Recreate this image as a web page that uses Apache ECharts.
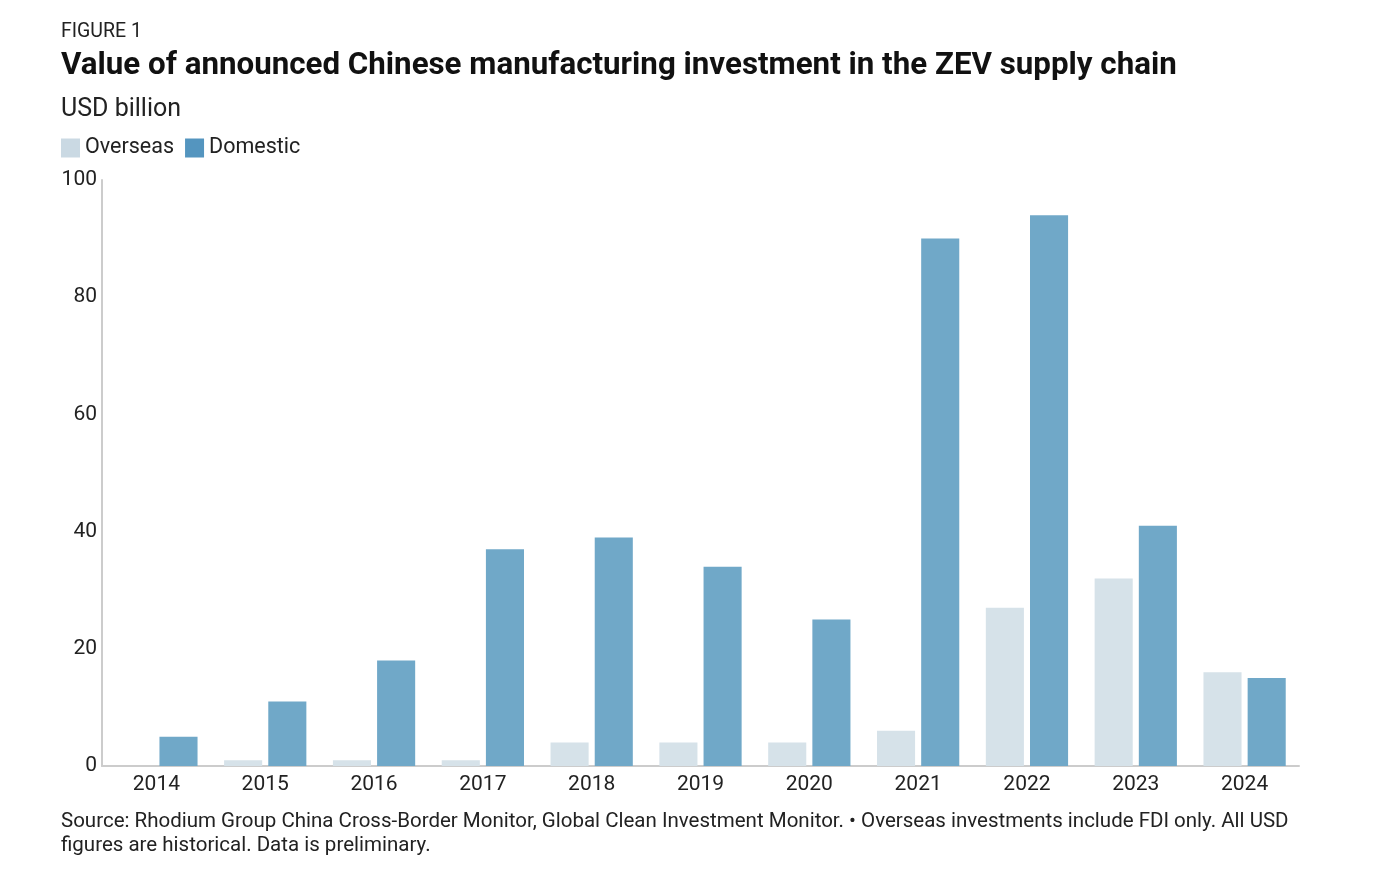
<!DOCTYPE html>
<html>
<head>
<meta charset="utf-8">
<script src="https://cdn.jsdelivr.net/npm/echarts@6/dist/echarts.min.js"></script>
<style>
  html, body { margin: 0; padding: 0; background: #fff; }
  #chart { width: 1380px; height: 887px; }
</style>
</head>
<body>
<div id="chart"></div>
<script>
var years = ['2014', '2015', '2016', '2017', '2018', '2019', '2020', '2021', '2022', '2023', '2024'];
var overseas = [0, 1, 1, 1, 4, 4, 4, 6, 27, 32, 16];
var domestic = [5, 11, 18, 37, 39, 34, 25, 90, 94, 41, 15];
var yTicks = [0, 20, 40, 60, 80, 100];

var chart = echarts.init(document.getElementById('chart'));
var font = 'Roboto, "Noto Sans", sans-serif';

var option = {
    animation: false,
    textStyle: { fontFamily: font },
    title: [
        { text: 'FIGURE 1', left: 61, top: 22, padding: 0, textStyle: { fontSize: 19.5, fontWeight: 'normal', color: '#222', fontFamily: font } },
        { text: 'Value of announced Chinese manufacturing investment in the ZEV supply chain', left: 61, top: 51, padding: 0, textStyle: { fontSize: 31.3, fontWeight: 'bold', color: '#111', fontFamily: font } },
        { text: 'USD billion', left: 61, top: 97, padding: 0, textStyle: { fontSize: 25, fontWeight: 'normal', color: '#222', fontFamily: font } },
        {
            text: 'Source: Rhodium Group China Cross-Border Monitor, Global Clean Investment Monitor. \u2022 Overseas investments include FDI only. All USD\nfigures are historical. Data is preliminary.',
            left: 61, top: 810, padding: 0,
            textStyle: { fontSize: 20.5, fontWeight: 'normal', color: '#222', lineHeight: 24, fontFamily: font }
        }
    ],
    legend: {
        left: 61, top: 137, padding: 0,
        itemWidth: 19, itemHeight: 19, itemGap: 11,
        icon: 'rect',
        textStyle: { fontSize: 21.5, color: '#222', fontFamily: font },
        data: [
            { name: 'Overseas', itemStyle: { color: '#cad9e3' } },
            { name: 'Domestic', itemStyle: { color: '#5495bf' } }
        ]
    },
    grid: { left: 102, right: 81, top: 180, bottom: 121, containLabel: false },
    xAxis: {
        type: 'category',
        data: years,
        axisLine: { lineStyle: { color: '#cccccc', width: 2 } },
        axisTick: { show: false },
        axisLabel: { fontSize: 21, color: '#222', margin: 8, fontFamily: font }
    },
    yAxis: {
        type: 'value',
        min: 0, max: 100, interval: 20,
        axisLine: { show: true, lineStyle: { color: '#cccccc', width: 2 } },
        axisTick: { show: false },
        splitLine: { show: false },
        axisLabel: {
            fontSize: 21, color: '#222', margin: 5, fontFamily: font,
            formatter: function (v) { return yTicks.indexOf(v) >= 0 ? String(v) : ''; }
        }
    },
    series: [
        {
            name: 'Overseas', type: 'bar', data: overseas,
            barWidth: '35%', barGap: '16%',
            itemStyle: { color: '#d6e2e9' }
        },
        {
            name: 'Domestic', type: 'bar', data: domestic,
            barWidth: '35%',
            itemStyle: { color: '#70a8c8' }
        }
    ]
};
chart.setOption(option);
</script>
</body>
</html>
